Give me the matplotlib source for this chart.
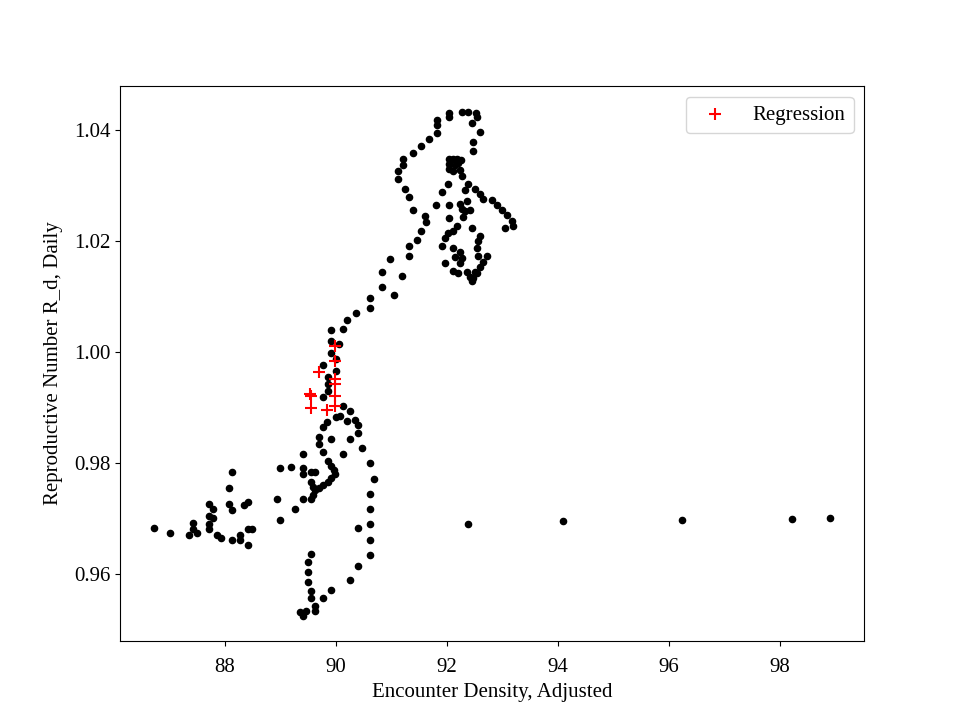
import numpy as np
import matplotlib
matplotlib.use('Agg')
from matplotlib import pyplot as plt

plt.rcParams['font.family'] = ['Liberation Serif', 'DejaVu Serif']
plt.rcParams['font.size'] = 15

# encounter density (x) and daily R (y)
density = [86.72, 87.01, 87.35, 87.42, 87.42, 87.50, 87.71, 87.78, 87.71, 87.78,
           87.71, 87.71, 87.86, 87.93, 88.13, 88.07, 88.07, 88.13, 88.13, 88.27,
           88.27, 88.41, 88.41, 88.49, 88.34, 88.41, 88.99, 88.94, 88.99, 89.19,
           89.26, 89.41, 89.41, 89.41, 89.41, 89.55, 89.62, 89.55, 89.59, 89.59,
           89.55, 89.62, 89.69, 89.77, 89.86, 89.91, 89.98, 89.96, 89.91, 89.86,
           89.77, 89.69, 89.69, 89.77, 89.84, 89.91, 90.13, 90.25, 90.47, 90.40,
           90.40, 90.34, 90.20, 90.07, 90.00, 90.25, 90.13, 89.77, 89.86, 89.86,
           89.86, 90.00, 89.77, 90.00, 89.91, 90.05, 89.91, 89.91, 90.13, 90.20,
           90.36, 90.61, 90.61, 90.83, 91.05, 90.83, 91.19, 90.97, 91.32, 91.32,
           91.46, 91.53, 91.62,
           90.61, 90.68, 90.61, 90.61, 90.61, 90.40, 90.61, 90.61, 90.40, 90.25,
           89.91, 89.77, 89.62, 89.62, 89.35, 89.41, 89.55, 89.55, 89.50, 89.50,
           89.50, 89.55, 89.46,
           92.38, 94.09, 96.23, 98.22, 98.90,
           91.60, 91.39, 91.32, 91.24, 91.12, 91.12, 91.21, 91.21, 91.39, 91.53,
           91.68, 91.82, 91.82, 91.82, 92.04, 92.04, 92.27, 92.38, 92.52, 92.54,
           92.45, 92.59, 92.47, 92.47,
           92.04, 92.11, 92.18, 92.25, 92.04, 92.04, 92.14, 92.20, 92.11, 92.23,
           92.27, 92.02, 92.38, 91.91, 91.80, 92.04, 92.04, 92.32, 92.50, 92.59,
           92.65, 92.81, 92.90, 92.99, 93.08, 93.17, 93.19, 93.05, 92.36, 92.27,
           92.41, 92.29, 92.45, 92.18, 92.11, 92.02, 91.96, 91.91, 92.59, 92.56,
           92.54, 92.56, 92.72, 92.65, 92.59, 92.50, 92.41, 92.47, 92.11, 92.14,
           91.96, 92.23, 92.11, 92.20, 92.36, 92.23, 92.27, 92.45, 92.54, 92.23,
           92.32]
r_daily = [0.9683, 0.9674, 0.9670, 0.9692, 0.9681, 0.9674, 0.9725, 0.9716, 0.9703, 0.9701,
           0.9690, 0.9680, 0.9669, 0.9665, 0.9784, 0.9754, 0.9725, 0.9714, 0.9661, 0.9669,
           0.9660, 0.9652, 0.9680, 0.9680, 0.9723, 0.9730, 0.9791, 0.9735, 0.9696, 0.9793,
           0.9716, 0.9735, 0.9815, 0.9790, 0.9779, 0.9784, 0.9784, 0.9766, 0.9757, 0.9741,
           0.9735, 0.9750, 0.9755, 0.9759, 0.9766, 0.9772, 0.9779, 0.9786, 0.9795, 0.9804,
           0.9819, 0.9833, 0.9847, 0.9864, 0.9873, 0.9842, 0.9815, 0.9842, 0.9826, 0.9853,
           0.9869, 0.9878, 0.9876, 0.9885, 0.9882, 0.9894, 0.9903, 0.9918, 0.9929, 0.9943,
           0.9954, 0.9965, 0.9976, 0.9988, 0.9999, 1.0014, 1.0019, 1.0039, 1.0041, 1.0057,
           1.0071, 1.0079, 1.0098, 1.0118, 1.0102, 1.0144, 1.0138, 1.0167, 1.0173, 1.0192,
           1.0203, 1.0218, 1.0234,
           0.9799, 0.9770, 0.9743, 0.9716, 0.9689, 0.9683, 0.9661, 0.9634, 0.9613, 0.9589,
           0.9571, 0.9555, 0.9542, 0.9533, 0.9530, 0.9524, 0.9555, 0.9569, 0.9584, 0.9602,
           0.9620, 0.9636, 0.9532,
           0.9689, 0.9694, 0.9697, 0.9698, 0.9701,
           1.0245, 1.0257, 1.0279, 1.0295, 1.0313, 1.0326, 1.0337, 1.0348, 1.0360, 1.0371,
           1.0384, 1.0396, 1.0409, 1.0418, 1.0425, 1.0431, 1.0434, 1.0434, 1.0431, 1.0424,
           1.0413, 1.0398, 1.0380, 1.0362,
           1.0348, 1.0348, 1.0348, 1.0346, 1.0339, 1.0331, 1.0337, 1.0342, 1.0326, 1.0328,
           1.0317, 1.0304, 1.0304, 1.0288, 1.0265, 1.0265, 1.0241, 1.0292, 1.0295, 1.0286,
           1.0277, 1.0274, 1.0265, 1.0256, 1.0247, 1.0237, 1.0228, 1.0223, 1.0272, 1.0259,
           1.0256, 1.0244, 1.0223, 1.0228, 1.0218, 1.0214, 1.0205, 1.0192, 1.0210, 1.0201,
           1.0187, 1.0174, 1.0174, 1.0163, 1.0154, 1.0145, 1.0136, 1.0133, 1.0187, 1.0172,
           1.0160, 1.0160, 1.0147, 1.0142, 1.0145, 1.0181, 1.0169, 1.0129, 1.0142, 1.0268,
           1.0254]

# points flagged by the regression
reg_density = [89.53, 89.55, 89.55, 89.69, 89.84, 89.98, 89.98, 89.98, 89.98, 89.98, 89.98]
reg_r = [0.9925, 0.9921, 0.9898, 0.9963, 0.9896, 1.0010, 0.9983, 0.9952, 0.9943, 0.9921, 0.9903]

fig = plt.figure(figsize=(9.6, 7.2), dpi=100)
ax = fig.add_subplot(111)
ax.scatter(density, r_daily, s=20, color='black')
ax.scatter(reg_density, reg_r, s=80, marker='+', color='red', label='Regression')
ax.set_xlabel('Encounter Density, Adjusted')
ax.set_ylabel('Reproductive Number R_d, Daily', labelpad=8)
ax.tick_params(axis='x', pad=9)
ax.legend(loc='upper right')

plt.savefig('out.png', dpi=100)
